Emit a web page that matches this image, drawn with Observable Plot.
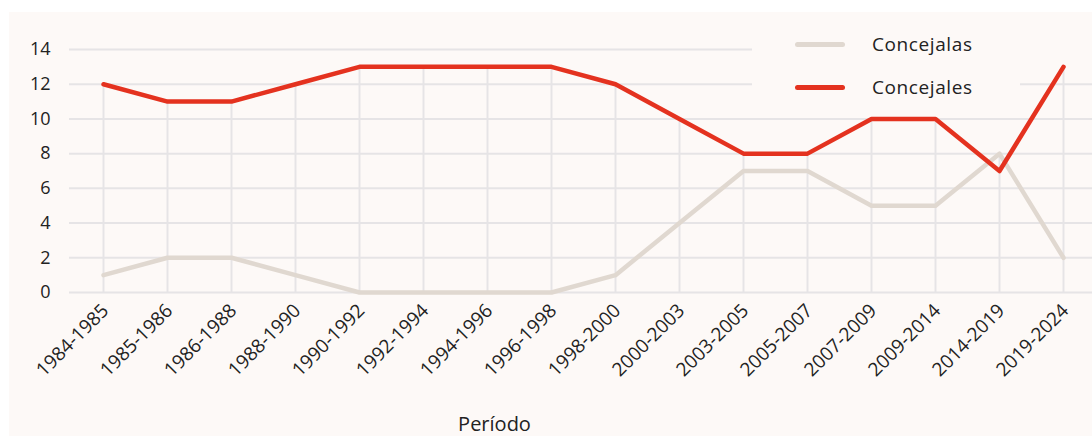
<!DOCTYPE html>
<html>
<head>
<meta charset="utf-8">
<script src="https://cdn.jsdelivr.net/npm/d3@7"></script>
<script src="https://cdn.jsdelivr.net/npm/@observablehq/plot@0.6"></script>
<style>
  html, body { margin: 0; padding: 0; background: #ffffff; }
  #wrap { position: relative; width: 1092px; height: 436px; overflow: hidden; }
  #panel { position: absolute; left: 9px; top: 12px; width: 1083px; height: 424px; background: #fdf9f7; }
  #cover { position: absolute; left: 1020px; top: 18px; width: 72px; height: 40px; background: #fdf9f7; }
  #legend { position: absolute; left: 752px; top: 18px; width: 268px; height: 84px; background: #fdf9f7;
            font-family: "Open Sans", sans-serif; font-size: 19px; color: #222; letter-spacing: 0.6px; }
  .item { position: absolute; left: 43px; height: 26px; display: flex; align-items: center; }
  .swatch { width: 50px; height: 5px; border-radius: 3px; margin-right: 27px; }
</style>
</head>
<body>
<div id="wrap">
  <div id="panel"></div>
  <div id="cover"></div>
  <div id="legend"></div>
</div>
<script>
const periodos = ["1984-1985","1985-1986","1986-1988","1988-1990","1990-1992","1992-1994","1994-1996","1996-1998","1998-2000","2000-2003","2003-2005","2005-2007","2007-2009","2009-2014","2014-2019","2019-2024"];
const concejales = [12, 11, 11, 12, 13, 13, 13, 13, 12, 10, 8, 8, 10, 10, 7, 13];
const concejalas = [1, 2, 2, 1, 0, 0, 0, 0, 1, 4, 7, 7, 5, 5, 8, 2];
const yTicks = [0, 2, 4, 6, 8, 10, 12, 14];
const seriesNames = ["Concejalas", "Concejales"];
const seriesColors = ["#e0d8d0", "#e4321f"];

const rows = [];
periodos.forEach((p, i) => {
  rows.push({periodo: p, serie: seriesNames[0], valor: concejalas[i]});
  rows.push({periodo: p, serie: seriesNames[1], valor: concejales[i]});
});
const maxRows = periodos.map((p, i) => ({periodo: p, max: Math.max(concejales[i], concejalas[i])}));

const chart = Plot.plot({
  width: 1083,
  height: 424,
  marginLeft: 60,
  marginRight: 0,
  marginTop: 37,
  marginBottom: 144,
  style: {background: "transparent", fontFamily: "'Open Sans', sans-serif", fontSize: "18px", color: "#222"},
  x: {type: "point", domain: periodos, range: [92, 1056], padding: 0, axis: null},
  y: {domain: [0, 14], axis: null},
  color: {domain: seriesNames, range: seriesColors},
  marks: [
    Plot.ruleY(yTicks, {stroke: "#e6e4e6", strokeWidth: 2}),
    Plot.ruleX(maxRows, {x: "periodo", y1: 0, y2: "max", stroke: "#e6e4e6", strokeWidth: 2}),
    Plot.text(yTicks, {y: d => d, frameAnchor: "left", dx: -19, textAnchor: "end", fontSize: 18, fill: "#222"}),
    Plot.text(periodos, {x: d => d, frameAnchor: "bottom", dx: 2, dy: 15, rotate: -45, textAnchor: "end", lineAnchor: "middle", fontSize: 19, fill: "#222"}),
    Plot.line(rows, {x: "periodo", y: "valor", z: "serie", stroke: "serie", strokeWidth: 4.5, strokeLinejoin: "round", strokeLinecap: "round"}),
    Plot.text(["Período"], {frameAnchor: "bottom-left", dx: 425, dy: 138, textAnchor: "middle", lineAnchor: "bottom", fontSize: 20, fill: "#222"})
  ]
});
chart.style.position = "absolute";
chart.style.left = "0px";
chart.style.top = "0px";
document.getElementById("panel").appendChild(chart);

const legend = document.getElementById("legend");
seriesNames.forEach((name, i) => {
  const item = document.createElement("div");
  item.className = "item";
  item.style.top = (13 + i * 43) + "px";
  const sw = document.createElement("span");
  sw.className = "swatch";
  sw.style.background = seriesColors[i];
  const label = document.createElement("span");
  label.textContent = name;
  item.appendChild(sw);
  item.appendChild(label);
  legend.appendChild(item);
});
</script>
</body>
</html>
